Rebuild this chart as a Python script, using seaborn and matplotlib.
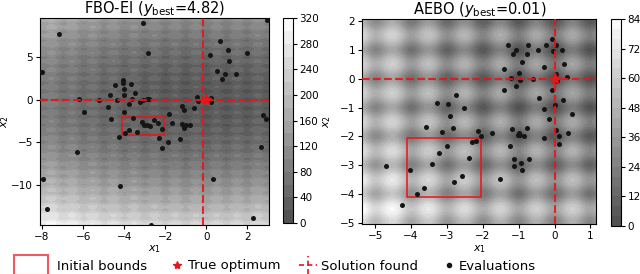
import numpy as np
import matplotlib
matplotlib.use("Agg")
import matplotlib.pyplot as plt
import seaborn as sns
import pandas as pd
from matplotlib.patches import Rectangle
from matplotlib.lines import Line2D
from matplotlib.legend_handler import HandlerBase
from matplotlib.colors import LinearSegmentedColormap

# ---------------- data ----------------
titles = ["FBO-EI", "AEBO"]
y_best = ["4.82", "0.01"]

fbo_x1 = [-7.16, -3.09, 2.96, -8.02, -2.85, 0.67, 1.06, 0.19, 1.12, 2.01, 0.52, 0.92,
          0.76, 1.46, 2.76, 2.92, -4.07, -4.07, -4.44, -3.68, -4.0, -3.45, -4.69, -4.0,
          -6.21, -5.22, -4.34, -3.61, -3.09, -2.9, -2.78, -3.21, -3.77, -4.8, -5.94, -4.02,
          -4.65, -3.58, -3.12, -3.04, -2.9, -2.75, -2.54, -2.36, -2.13, -3.77, -3.38, -3.95,
          -1.79, -1.17, -1.06, -0.57, -0.39, -0.46, 0.24, 0.24, -1.16, -1.06, -0.99, -1.06,
          -0.78, -1.66, -4.23, -2.31, -1.86, -1.26, -2.16, -6.28, 2.68, -7.97, -4.18, 0.32,
          -7.74, 2.29, -2.69]
fbo_x2 = [7.77, 8.99, 9.38, 3.28, 5.55, 6.88, 5.86, 5.31, 4.53, 5.55, 3.44, 3.01,
          2.43, 3.01, -1.80, -2.23, 2.38, 2.03, 1.79, 1.91, 1.25, 0.78, 0.62, 0.55,
          0.15, 0.0, 0.0, 0.12, 0.0, 0.08, 0.05, -0.2, -0.51, -0.82, -1.41, -1.48,
          -2.27, -2.19, -2.62, -3.01, -3.01, -3.13, -2.34, -2.77, -3.4, -3.6, -3.79, -3.95,
          -1.68, -0.74, -1.17, -0.97, -0.12, 0.31, 0.2, -0.31, -2.85, -3.08, -2.93, -3.28,
          -2.97, -2.77, -4.34, -4.49, -4.92, -4.65, -5.63, -6.17, -5.51, -9.34, -10.16, -9.3,
          -12.78, -13.83, -14.65]

aebo_x1 = [-1.30, -1.06, -1.15, -0.74, -0.78, -0.25, -0.08, 0.05, -0.04, 0.21, -0.47, -0.9,
           -1.40, -1.0, -1.21, -0.97, -0.6, -0.28, 0.26, 0.03, 0.34, 0.02, 0.08, -1.06,
           -1.42, -0.08, -0.44, 0.23, -0.28, 0.0, 0.5, -0.16, 0.03, -0.78, -1.18, -1.0,
           -1.02, -0.95, -0.86, -1.74, -0.28, 0.12, 0.38,
           -2.74, -3.27, -2.97, -2.53, -2.92, -3.58, -3.14, -2.83, -2.12, -2.05, -2.29, -2.19,
           -3.01, -3.22, -2.38, -3.42, -4.04, -4.69, -2.59, -2.81, -3.63, -3.84, -4.25, -1.52,
           -1.24, -1.13, -1.14, -0.93, -0.92, -0.71, 0.12]
aebo_x2 = [1.16, 1.0, 0.86, 1.18, 0.86, 1.15, 1.39, 1.18, 0.96, 1.0, 0.98, 0.57,
           0.34, 0.2, 0.01, -0.05, 0.0, 0.39, 0.52, 0.16, 0.07, -0.02, -0.08, -0.25,
           -0.39, -0.41, -0.68, -0.75, -1.04, -0.93, -1.21, -1.39, -1.77, -1.71, -1.75, -1.87,
           -1.96, -1.96, -2.0, -1.87, -2.04, -1.98, -1.89,
           -0.56, -0.86, -0.87, -1.03, -1.31, -1.69, -1.84, -1.72, -1.83, -2.0, -2.2, -2.15,
           -2.34, -2.56, -2.76, -2.97, -3.17, -3.02, -3.38, -3.57, -3.78, -3.98, -4.39, -3.47,
           -2.34, -2.78, -3.01, -2.91, -3.17, -2.79, -2.26]

solution_found = [[-0.15, 0.0], [0.0, 0.0]]
true_optimum = [0.0, 0.0]
initial_bounds = [-4.1, -2.05]

xlims = [(-8.1, 3.07), (-5.36, 1.17)]
ylims = [(-14.7, 9.6), (-5.05, 2.07)]
xticks = [[-8, -6, -4, -2, 0, 2], [-5, -4, -3, -2, -1, 0, 1]]
yticks = [[-10, -5, 0, 5], [-5, -4, -3, -2, -1, 0, 1, 2]]
levels = [np.arange(0, 321, 20), np.arange(0, 85, 4)]
cticks = [np.arange(0, 321, 40), np.arange(0, 85, 12)]


def rastrigin(a, b):
    # objective function (2-D Rastrigin) shown as the background surface
    return 20 + a ** 2 - 10 * np.cos(2 * np.pi * a) + b ** 2 - 10 * np.cos(2 * np.pi * b)


# gray colormap as drawn with 70 % opacity on white (pre-blended, no seams)
soft_gray = LinearSegmentedColormap.from_list("soft_gray", [(0.3, 0.3, 0.3), (1, 1, 1)])

# ---------------- figure ----------------
fig = plt.figure(figsize=(6.4, 2.74), dpi=100)
ax_pos = [[0.0625, 0.179, 0.358, 0.755], [0.566, 0.181, 0.366, 0.750]]
cax_pos = [[0.442, 0.186, 0.0156, 0.748], [0.955, 0.175, 0.0156, 0.755]]
ylabel_x = [-0.125, -0.125]

RED = "#e8151b"
pts_x = [fbo_x1, aebo_x1]
pts_y = [fbo_x2, aebo_x2]

for i in range(2):
    ax = fig.add_axes(ax_pos[i])
    cax = fig.add_axes(cax_pos[i])
    gx = np.linspace(*xlims[i], 400)
    gy = np.linspace(*ylims[i], 400)
    GX, GY = np.meshgrid(gx, gy)
    Z = rastrigin(GX, GY)
    cs = ax.contourf(GX, GY, Z, levels=levels[i], cmap=soft_gray)
    cb = fig.colorbar(cs, cax=cax, ticks=cticks[i])
    cb.ax.tick_params(labelsize=7.5, length=3, pad=1.5)
    cb.outline.set_linewidth(0.8)

    df = pd.DataFrame({"x1": pts_x[i], "x2": pts_y[i]})
    sns.scatterplot(data=df, x="x1", y="x2", ax=ax, color="#151515", s=13,
                    linewidth=0, zorder=4, legend=False)

    lo, hi = initial_bounds
    ax.add_patch(Rectangle((lo, lo), hi - lo, hi - lo, fill=False, ec=RED,
                           lw=1.1, zorder=3))
    ax.axvline(solution_found[i][0], color=RED, ls="--", lw=1.5, alpha=0.9, zorder=5)
    ax.axhline(solution_found[i][1], color=RED, ls="--", lw=1.5, alpha=0.9, zorder=5)
    ax.plot(true_optimum[0], true_optimum[1], marker="*", color=RED, ms=8,
            ls="none", zorder=6)

    ax.set_xlim(*xlims[i])
    ax.set_ylim(*ylims[i])
    ax.set_xticks(xticks[i])
    ax.set_yticks(yticks[i])
    ax.tick_params(labelsize=7.5, length=3, pad=2)
    ax.set_xlabel("$x_1$", fontsize=8, labelpad=1)
    ax.set_ylabel("$x_2$", fontsize=8)
    ax.yaxis.set_label_coords(ylabel_x[i], 0.5)
    ax.set_title(titles[i] + r" ($y_{\mathrm{best}}$=" + y_best[i] + ")",
                 fontsize=10.5, pad=3)


# ---------------- legend ----------------
PX = 0.72  # points per pixel at 100 dpi


class FnHandler(HandlerBase):
    def __init__(self, fn):
        super().__init__()
        self.fn = fn

    def create_artists(self, legend, orig_handle, xdescent, ydescent, width,
                       height, fontsize, trans):
        cy = height / 2 - ydescent
        x0 = -xdescent
        arts = self.fn(x0, cy)
        for a in arts:
            a.set_transform(trans)
        return arts


def draw_rect(x0, cy):
    return [Rectangle((x0 - 15 * PX, cy - 10 * PX), 34 * PX, 20 * PX, fill=False,
                      ec=RED, lw=1.5, alpha=0.7)]


def draw_star(x0, cy):
    return [Line2D([x0 + 17 * PX], [cy], marker="*", color=RED, ms=6, ls="none")]


def draw_cross(x0, cy):
    h = Line2D([x0 + 6 * PX, x0 + 24 * PX], [cy, cy], color=RED, ls="--",
               lw=1.2, dashes=(3, 2))
    v = Line2D([x0 + 15 * PX, x0 + 15 * PX], [cy - 9 * PX, cy + 9 * PX], color=RED,
               ls="--", lw=1.2, dashes=(3, 2))
    return [h, v]


def draw_dot(x0, cy):
    return [Line2D([x0 + 18 * PX], [cy], marker="o", color="#151515", ms=3,
                   ls="none")]


handles = [Rectangle((0, 0), 1, 1), Line2D([], []), Line2D([], []), Line2D([], [])]
labels = ["Initial bounds", "True optimum", "Solution found", "Evaluations"]
hmap = {handles[0]: FnHandler(draw_rect), handles[1]: FnHandler(draw_star),
        handles[2]: FnHandler(draw_cross), handles[3]: FnHandler(draw_dot)}
fig.legend(handles, labels, handler_map=hmap, loc="center left",
           bbox_to_anchor=(29 / 640, 8 / 274), ncol=4, frameon=False,
           fontsize=9.5, handlelength=1.6, handletextpad=0.5, columnspacing=1.0,
           borderpad=0, borderaxespad=0)

fig.savefig("out.png", dpi=100)
